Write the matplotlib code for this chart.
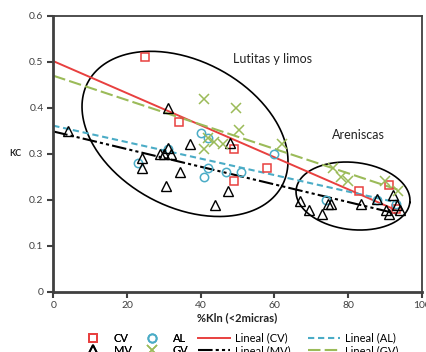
import numpy as np
import matplotlib
matplotlib.use('Agg')
import matplotlib.pyplot as plt
from matplotlib.lines import Line2D

plt.rcParams['font.family'] = ['Lato', 'DejaVu Sans']

# ---- data ----
cv_x = [25, 34, 49, 49, 58, 83, 91, 93]
cv_y = [0.51, 0.37, 0.31, 0.24, 0.27, 0.22, 0.232, 0.18]

al_x = [23, 31, 40, 42, 42, 41, 47, 51, 60, 74, 88, 93]
al_y = [0.28, 0.31, 0.345, 0.335, 0.27, 0.25, 0.26, 0.26, 0.30, 0.20, 0.20, 0.19]

mv_x = [4, 24, 24, 29, 30, 31, 32, 31, 30.5, 34.5, 37, 44, 47.5, 48, 67, 69.5,
        73, 74.6, 75.3, 83.5, 87.8, 90.3, 91, 92.1, 93.2, 94]
mv_y = [0.35, 0.29, 0.268, 0.30, 0.30, 0.312, 0.299, 0.40, 0.23, 0.26, 0.32, 0.188,
        0.22, 0.323, 0.197, 0.178, 0.17, 0.19, 0.19, 0.19, 0.202, 0.178, 0.17, 0.21,
        0.188, 0.178]

gv_x = [41, 49.5, 50.5, 42, 41, 43.5, 46, 62, 76, 78, 80, 90, 93.5]
gv_y = [0.42, 0.40, 0.352, 0.335, 0.31, 0.326, 0.32, 0.32, 0.27, 0.25, 0.24, 0.24, 0.22]

x_ticks = [0, 20, 40, 60, 80, 100]
y_ticks = [0, 0.1, 0.2, 0.3, 0.4, 0.5, 0.6]
y_tick_labels = ['0', '0.1', '0.2', '0.3', '0.4', '0.5', '0.6']

# ---- styling ----
c_red = '#e8403f'
c_blue = '#4bacc6'
c_green = '#9bbb59'
c_dark = '#404040'

W, H = 426, 352
fig = plt.figure(figsize=(W / 100, H / 100), dpi=100)
L, R, T, B = 53.3, 421.7, 15.7, 291.7
ax = fig.add_axes([L / W, 1 - B / H, (R - L) / W, (B - T) / H])
ax.set_xlim(0, 100)
ax.set_ylim(0, 0.6)
sx = (R - L) / 100.0
sy = (B - T) / 0.6

# ellipses (pixel-space shape, converted to data units)
def draw_ellipse(cx, cy, a, b, theta_deg):
    t = np.linspace(0, 2 * np.pi, 300)
    th = np.deg2rad(theta_deg)
    px = a * np.cos(t) * np.cos(th) - b * np.sin(t) * np.sin(th)
    py = a * np.cos(t) * np.sin(th) + b * np.sin(t) * np.cos(th)
    ax.plot(cx + px / sx, cy - py / sy, color='black', lw=1.2, zorder=1)

draw_ellipse(35.75, 0.343, 110, 73, 28)
draw_ellipse(81.35, 0.208, 57.2, 33.6, 6.5)

def trend(xs, ys):
    k, c = np.polyfit(xs, ys, 1)
    xx = np.array([0, max(xs)])
    return xx, k * xx + c

ms = 6
ax.plot(cv_x, cv_y, ls='none', marker='s', ms=ms, mfc='none', mec=c_red, mew=1.1, zorder=3)
ax.plot(al_x, al_y, ls='none', marker='o', ms=ms, mfc='none', mec=c_blue, mew=1.1, zorder=3)
ax.plot(mv_x, mv_y, ls='none', marker='^', ms=6.5, mfc='none', mec='black', mew=1.0, zorder=3)
ax.plot(gv_x, gv_y, ls='none', marker='x', ms=7, mec=c_green, mew=1.1, zorder=3)

xx, yy = trend(cv_x, cv_y)
ax.plot(xx, yy, color=c_red, lw=1.4, zorder=2)
xx, yy = trend(al_x, al_y)
ax.plot(xx, yy, color=c_blue, lw=1.5, dashes=(3, 1.8), zorder=2)
xx, yy = trend(mv_x, mv_y)
ax.plot(xx, yy, color='black', lw=1.5, dashes=(7, 1.5, 1.5, 1.5, 1.5, 1.5), zorder=2)
xx, yy = trend(gv_x, gv_y)
ax.plot(xx, yy, color=c_green, lw=1.5, dashes=(6, 2), zorder=2)

ax.text(59.6, 0.506, 'Lutitas y limos', fontsize=9, ha='center', va='center', color='#222222')
ax.text(82.7, 0.341, 'Areniscas', fontsize=9, ha='center', va='center', color='#222222')

# axes styling
for s in ['left', 'bottom']:
    ax.spines[s].set_linewidth(2.0)
    ax.spines[s].set_color(c_dark)
for s in ['top', 'right']:
    ax.spines[s].set_linewidth(1.3)
    ax.spines[s].set_color(c_dark)
ax.set_xticks(x_ticks)
ax.set_xticklabels([str(v) for v in x_ticks])
ax.set_yticks(y_ticks)
ax.set_yticklabels(y_tick_labels)
ax.tick_params(direction='out', length=4, width=1.5, color=c_dark, labelcolor=c_dark,
               labelsize=7.5, pad=3)

ax.set_xlabel('%Kln (<2micras)', fontsize=8, fontweight='bold', color='#222222', labelpad=1)
ax.set_ylabel('KC', fontsize=6.5, fontweight='bold', rotation=0, color='#222222',
              ha='center', va='center')
ax.yaxis.set_label_coords((15 - L) / (R - L), 0.5)

marker_handles = [
    Line2D([], [], ls='none', marker='s', ms=ms, mfc='none', mec=c_red, mew=1.3),
    Line2D([], [], ls='none', marker='^', ms=6.5, mfc='none', mec='black', mew=1.3),
    Line2D([], [], ls='none', marker='o', ms=ms, mfc='none', mec=c_blue, mew=1.3),
    Line2D([], [], ls='none', marker='x', ms=7, mec=c_green, mew=1.1),
]
marker_labels = ['CV', 'MV', 'AL', 'GV']
line_handles = [
    Line2D([], [], color=c_red, lw=1.4),
    Line2D([], [], color='black', lw=1.5, dashes=(7, 1.5, 1.5, 1.5, 1.5, 1.5)),
    Line2D([], [], color=c_blue, lw=1.5, dashes=(3, 1.8)),
    Line2D([], [], color=c_green, lw=1.5, dashes=(6, 2)),
]
line_labels = ['Lineal (CV)', 'Lineal (MV)', 'Lineal (AL)', 'Lineal (GV)']
common = dict(ncol=2, loc='upper left', frameon=False, fontsize=8, borderpad=0,
              labelspacing=0.15, handlelength=2.9, handletextpad=0.4, borderaxespad=0)
leg1 = fig.legend(marker_handles, marker_labels, bbox_to_anchor=(77 / W, 1 - 332.5 / H),
                  columnspacing=0.4, **common)
fig.add_artist(leg1)
fig.legend(line_handles, line_labels, bbox_to_anchor=(198 / W, 1 - 332.5 / H),
           columnspacing=1.6, **common)

fig.savefig('out.png', dpi=100)
